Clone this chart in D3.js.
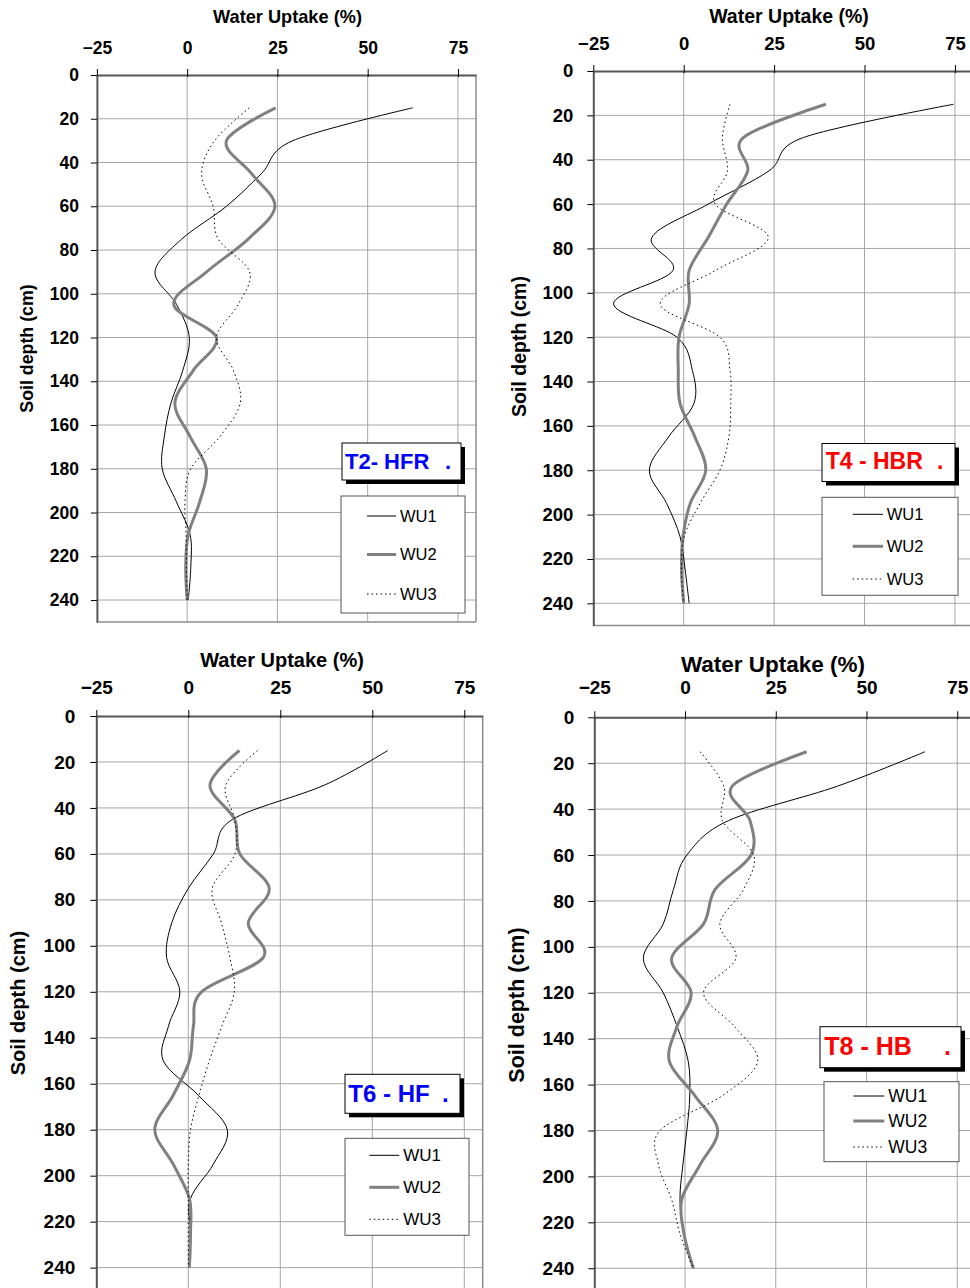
<!DOCTYPE html>
<html>
<head>
<meta charset="utf-8">
<script src="https://cdn.jsdelivr.net/npm/d3@7"></script>
<style>
  html, body { margin: 0; padding: 0; background: #fff; }
  svg { display: block; font-family: "Liberation Sans", Arial, sans-serif; }
</style>
</head>
<body>
<svg id="chart" width="970" height="1288"></svg>
<script>
// ---------- DATA ----------
const depths = [15, 30, 45, 60, 75, 90, 105, 120, 135, 150, 165, 180, 195, 210, 225, 240];
const xTicks = [-25, 0, 25, 50, 75];
const yTicks = [0, 20, 40, 60, 80, 100, 120, 140, 160, 180, 200, 220, 240];
const seriesNames = ["WU1", "WU2", "WU3"];
const xTitle = "Water Uptake (%)";
const yTitle = "Soil depth (cm)";

// T2 - HFR
const t2WU1 = [62.5, 29.3, 20.6, 10.9, -1.5, -8.9, -2.9, 0.6, -1.2, -4.5, -6.3, -6.9, -3.0, 0.8, 1.0, 0.3];
const t2WU2 = [24.5, 10.9, 17.8, 24.3, 16.9, 5.4, -3.7, 8.1, 1.7, -3.4, 0.7, 5.3, 3.5, 0.3, -0.4, 0.0];
const t2WU3 = [17.2, 7.6, 4.0, 7.2, 8.6, 17.3, 14.1, 8.1, 12.8, 14.7, 9.2, 1.0, -0.6, -0.3, -0.2, 0.0];
// T4 - HBR
const t4WU1 = [74.6, 33.1, 23.6, 6.8, -8.8, -3.0, -19.4, -1.9, 2.4, 2.8, -4.2, -9.5, -4.7, -1.0, 0.4, 1.5];
const t4WU2 = [39.3, 16.5, 17.7, 11.9, 6.8, 1.5, 1.5, -1.3, -1.5, -1.0, 3.1, 6.1, 1.8, -0.2, -0.6, 0.0];
const t4WU3 = [12.8, 10.7, 12.1, 8.7, 23.4, 8.7, -6.5, 10.0, 12.8, 13.0, 12.5, 10.0, 4.5, 0.1, -0.6, 0.0];
// T6 - HF
const t6WU1 = [54.2, 37.1, 12.0, 6.8, 0.0, -4.5, -5.9, -2.3, -5.4, -6.8, 2.7, 10.6, 6.8, 0.6, 0.6, 0.2];
const t6WU2 = [13.9, 5.9, 12.6, 14.0, 22.0, 16.3, 20.4, 3.6, 1.4, 0.3, -4.1, -9.1, -4.1, 0.3, 0.6, 0.3];
const t6WU3 = [18.8, 10.2, 12.6, 12.7, 6.5, 9.0, 11.3, 12.5, 9.1, 5.7, 2.9, 0.6, 0.0, 0.0, 0.0, 0.0];
// T8 - HB
const t8WU1 = [66.1, 42.0, 12.0, 0.5, -3.2, -6.0, -11.5, -6.0, -2.1, 0.9, 1.3, 0.5, -0.6, -1.4, -0.3, 2.3];
const t8WU2 = [33.5, 13.0, 17.9, 18.2, 8.3, 5.1, -3.7, 1.7, -2.3, -4.3, 2.8, 9.0, 4.1, -0.9, -0.3, 2.3];
const t8WU3 = [4.1, 10.7, 10.3, 18.9, 16.1, 9.6, 14.0, 5.1, 13.8, 20.0, 10.1, -6.9, -7.3, -3.7, -1.4, 2.3];

const panelNames = ["T2- HFR", "T4 - HBR", "T6 - HF", "T8 - HB"];
const panelColors = ["#0000ff", "#ff0000", "#0000ff", "#ff0000"];
const panelSeries = [
  [t2WU1, t2WU2, t2WU3],
  [t4WU1, t4WU2, t4WU3],
  [t6WU1, t6WU2, t6WU3],
  [t8WU1, t8WU2, t8WU3]
];

// ---------- LAYOUT (pixel geometry per panel) ----------
const layouts = [
  { xr: [96.9, 476.0], yr: [75, 621.9], tickF: 17.5, tickOffX: 21, tickOffY: 18,
    titleX: 287.5, titleY: 22.5, titleF: 18.2, yTitleX: 33, yTitleY: 348.5, yTitleF: 17.8,
    box: [342, 443, 119, 37], boxText: [345, 468.5], boxF: 22, dotX: 445,
    leg: [341, 496, 124, 117], legY: [516, 554.5, 594], legLine: [367, 396], legTextX: 400, legF: 16.5 },
  { xr: [593.3, 973.0], yr: [71, 625.5], tickF: 18.5, tickOffX: 21, tickOffY: 20,
    titleX: 789, titleY: 23, titleF: 19.5, yTitleX: 525.5, yTitleY: 346.5, yTitleF: 19.5,
    box: [822, 443.5, 133, 38], boxText: [825.7, 469.3], boxF: 23, dotX: 937,
    leg: [822, 497.3, 136, 98], legY: [514.3, 546.3, 579], legLine: [852.7, 883], legTextX: 886.7, legF: 16.5 },
  { xr: [96.3, 482.7], yr: [716, 1290.6], tickF: 19, tickOffX: 22.5, tickOffY: 21,
    titleX: 282, titleY: 666.7, titleF: 20, yTitleX: 24.5, yTitleY: 1003, yTitleF: 20,
    box: [345, 1074.3, 115, 39], boxText: [348.3, 1101.7], boxF: 24, dotX: 442,
    leg: [345, 1138.3, 124, 97], legY: [1155.3, 1187.3, 1219.3], legLine: [369.3, 399.3], legTextX: 403.3, legF: 17 },
  { xr: [594.3, 975.4], yr: [717.3, 1291.2], tickF: 19, tickOffX: 23.3, tickOffY: 20,
    titleX: 773, titleY: 671.7, titleF: 22.5, yTitleX: 524, yTitleY: 1005, yTitleF: 21.5,
    box: [820, 1026.7, 141, 41], boxText: [824.3, 1055], boxF: 25, dotX: 944,
    leg: [824, 1081.7, 135, 80], legY: [1096, 1121, 1147], legLine: [853.3, 884.3], legTextX: 888.3, legF: 17.5 }
];

const styles = [
  { stroke: "#000", width: 1, dash: null },
  { stroke: "#808080", width: 3, dash: null },
  { stroke: "#000", width: 1, dash: "1.5,3" }
];

const svg = d3.select("#chart");

layouts.forEach((L, i) => {
  const g = svg.append("g");
  const x = d3.scaleLinear().domain([-25, 80]).range(L.xr);
  const y = d3.scaleLinear().domain([0, 250]).range(L.yr);

  // gridlines
  g.append("g").selectAll("line").data(xTicks.filter(t => t > -25)).join("line")
    .attr("x1", d => x(d)).attr("x2", d => x(d))
    .attr("y1", y(0)).attr("y2", y(250))
    .attr("stroke", "#a6a6a6").attr("stroke-width", 1);
  g.append("g").selectAll("line").data(yTicks.filter(t => t > 0)).join("line")
    .attr("x1", x(-25)).attr("x2", x(80))
    .attr("y1", d => y(d)).attr("y2", d => y(d))
    .attr("stroke", "#a6a6a6").attr("stroke-width", 1);
  // right & bottom frame
  g.append("line").attr("x1", x(80)).attr("x2", x(80)).attr("y1", y(0)).attr("y2", y(250))
    .attr("stroke", "#8c8c8c").attr("stroke-width", 1.5);
  g.append("line").attr("x1", x(-25)).attr("x2", x(80)).attr("y1", y(250)).attr("y2", y(250))
    .attr("stroke", "#8c8c8c").attr("stroke-width", 1.5);

  // series
  const line = d3.line()
    .x(d => x(d[1])).y(d => y(d[0]))
    .curve(d3.curveCardinal.tension(0));
  panelSeries[i].forEach((vals, k) => {
    const pts = depths.map((d, j) => [d, vals[j]]);
    const s = styles[k];
    g.append("path").datum(pts)
      .attr("d", line)
      .attr("fill", "none")
      .attr("stroke", s.stroke)
      .attr("stroke-width", s.width)
      .attr("stroke-dasharray", s.dash)
      .attr("stroke-linejoin", "round");
  });

  // axes
  const ax = g.append("g").attr("transform", `translate(0,${y(0)})`)
    .call(d3.axisTop(x).tickValues(xTicks).tickFormat(d3.format("d"))
      .tickSize(6).tickSizeOuter(0).tickPadding(L.tickOffX - 6));
  const ay = g.append("g").attr("transform", `translate(${x(-25)},0)`)
    .call(d3.axisLeft(y).tickValues(yTicks).tickFormat(d3.format("d"))
      .tickSize(6).tickSizeOuter(0).tickPadding(L.tickOffY - 6));
  [ax, ay].forEach(a => {
    a.select(".domain").attr("stroke", "#555").attr("stroke-width", 2);
    a.selectAll(".tick line").attr("stroke", "#000").attr("stroke-width", 1);
    a.selectAll(".tick text").attr("fill", "#000")
      .attr("font-size", L.tickF).attr("font-weight", "bold")
      .attr("font-family", "'Liberation Sans', Arial, sans-serif");
  });
  ax.selectAll(".tick line").attr("y2", -6).attr("y1", 2);
  ay.selectAll(".tick line").attr("x2", -6);

  // titles
  g.append("text").attr("x", L.titleX).attr("y", L.titleY)
    .attr("text-anchor", "middle").attr("font-weight", "bold")
    .attr("font-size", L.titleF).text(xTitle);
  g.append("text")
    .attr("transform", `translate(${L.yTitleX},${L.yTitleY}) rotate(-90)`)
    .attr("text-anchor", "middle").attr("font-weight", "bold")
    .attr("font-size", L.yTitleF).text(yTitle);

  // panel name box with shadow
  const [bx, by, bw, bh] = L.box;
  g.append("rect").attr("x", bx + 4).attr("y", by + 4).attr("width", bw).attr("height", bh).attr("fill", "#000");
  g.append("rect").attr("x", bx).attr("y", by).attr("width", bw).attr("height", bh)
    .attr("fill", "#fff").attr("stroke", "#000").attr("stroke-width", 1);
  const bt = g.append("text").attr("x", L.boxText[0]).attr("y", L.boxText[1])
    .attr("font-weight", "bold").attr("font-size", L.boxF).attr("fill", panelColors[i]);
  bt.append("tspan").text(panelNames[i]);
  bt.append("tspan").attr("x", L.dotX).text(".");

  // legend
  const [lx, ly, lw, lh] = L.leg;
  g.append("rect").attr("x", lx).attr("y", ly).attr("width", lw).attr("height", lh)
    .attr("fill", "#fff").attr("stroke", "#555").attr("stroke-width", 1);
  seriesNames.forEach((n, k) => {
    const s = styles[k];
    g.append("line").attr("x1", L.legLine[0]).attr("x2", L.legLine[1])
      .attr("y1", L.legY[k]).attr("y2", L.legY[k])
      .attr("stroke", s.stroke).attr("stroke-width", s.width).attr("stroke-dasharray", s.dash);
    g.append("text").attr("x", L.legTextX).attr("y", L.legY[k]).attr("dy", "0.36em")
      .attr("font-size", L.legF).attr("fill", "#000").text(n);
  });
});
</script>
</body>
</html>
